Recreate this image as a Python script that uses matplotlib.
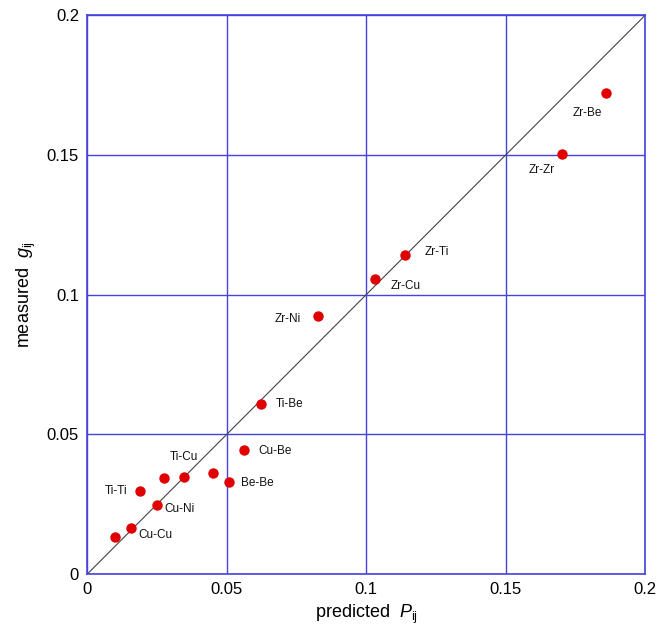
import matplotlib
matplotlib.use("Agg")
import matplotlib.pyplot as plt

plt.rcParams['font.family'] = ['Liberation Sans', 'DejaVu Sans']
plt.rcParams['mathtext.fontset'] = 'custom'
plt.rcParams['mathtext.rm'] = 'Liberation Sans'
plt.rcParams['mathtext.it'] = 'Liberation Sans:italic'

# data
labels = ['', 'Cu-Cu', 'Ti-Ti', 'Cu-Ni', '', 'Ti-Cu', '', 'Be-Be', 'Cu-Be',
          'Ti-Be', 'Zr-Ni', 'Zr-Cu', 'Zr-Ti', 'Zr-Be', 'Zr-Zr']
predicted = [0.0098, 0.0156, 0.0189, 0.0249, 0.0276, 0.0346, 0.0450, 0.0508,
             0.0562, 0.0622, 0.0826, 0.1032, 0.1140, 0.1861, 0.1703]
measured = [0.0131, 0.0166, 0.0297, 0.0246, 0.0344, 0.0347, 0.0363, 0.0329,
            0.0444, 0.0610, 0.0922, 0.1056, 0.1141, 0.1723, 0.1503]
ticks = [0, 0.05, 0.1, 0.15, 0.2]
tick_labels = ['0', '0.05', '0.1', '0.15', '0.2']

# label offsets (pixels)
offsets = [(0, 0), (25, -7), (-24, 0), (23, -4), (0, 0), (0, 20), (0, 0), (28, -1),
           (31, -1), (29, 0), (-30, -3), (31, -7), (32, 3), (-19, -20), (-21, -16)]

fig = plt.figure(figsize=(6.72, 6.36), dpi=100)
ax = fig.add_axes([0.130, 0.0975, 0.830, 0.8785])

blue = '#4444dd'
ax.set_xlim(0, 0.2)
ax.set_ylim(0, 0.2)
ax.set_xticks(ticks)
ax.set_yticks(ticks)
ax.set_xticklabels(tick_labels)
ax.set_yticklabels(tick_labels)
ax.tick_params(length=0, labelsize=12, pad=6)
ax.grid(True, color=blue, linewidth=1.0)
ax.set_axisbelow(True)
for s in ax.spines.values():
    s.set_color(blue)
    s.set_linewidth(1.2)

ax.plot([0, 0.2], [0, 0.2], color='#444444', linewidth=0.8, zorder=2)
ax.plot(predicted, measured, 'o', color='#e00000', markersize=7.5,
        markeredgewidth=0, zorder=3)

for lab, x, y, (dx, dy) in zip(labels, predicted, measured, offsets):
    if lab:
        ax.annotate(lab, (x, y), xytext=(dx, dy), textcoords='offset pixels',
                    ha='center', va='center', fontsize=8.5, color='#111111')

ax.set_xlabel(r'predicted  $\mathit{P}_{\mathrm{ij}}$', fontsize=13, labelpad=4)
ax.set_ylabel(r'measured  $\mathit{g}_{\mathrm{ij}}$', fontsize=13, labelpad=6)

fig.savefig('out.png', dpi=100)
